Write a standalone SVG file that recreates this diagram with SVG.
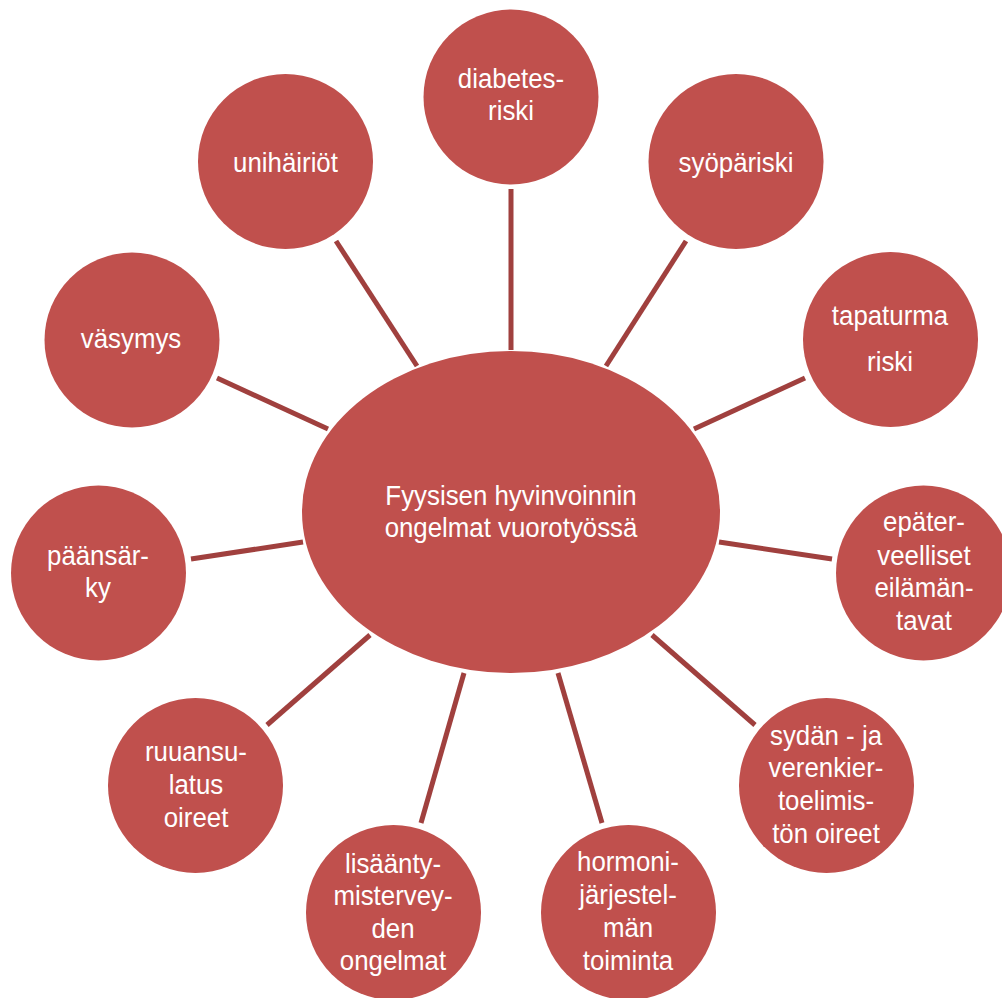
<svg xmlns="http://www.w3.org/2000/svg" width="1002" height="998" viewBox="0 0 1002 998">
<style>
.n{fill:#C0504D}
.t{fill:#FFFFFF;font-family:"Liberation Sans",Arial,sans-serif;font-size:27.5px;text-anchor:middle}
.c line{stroke:#A0403E;stroke-width:5}
</style>
<rect width="1002" height="998" fill="#FFFFFF"/>
<g class="c" id="connectors">
<line x1="511" y1="189" x2="511" y2="350"/>
<line x1="686" y1="241" x2="606" y2="366"/>
<line x1="805" y1="378" x2="694" y2="429"/>
<line x1="832" y1="559" x2="719" y2="542"/>
<line x1="755" y1="725" x2="652" y2="635"/>
<line x1="602" y1="823" x2="558" y2="673"/>
<line x1="421" y1="823" x2="464" y2="673"/>
<line x1="267" y1="725" x2="370" y2="635"/>
<line x1="191" y1="559" x2="303" y2="542"/>
<line x1="217" y1="378" x2="328" y2="429"/>
<line x1="336" y1="241" x2="417" y2="366"/>
</g>
<g id="center">
<ellipse class="n" cx="511" cy="512" rx="209" ry="161"/>
<text class="t" transform="translate(511,505) scale(0.94,1)">Fyysisen hyvinvoinnin</text>
<text class="t" transform="translate(511,537) scale(0.94,1)">ongelmat vuorotyössä</text>
</g>
<g id="diabetes">
<circle class="n" cx="511" cy="97" r="87.5"/>
<text class="t" transform="translate(511,88) scale(0.94,1)">diabetes-</text>
<text class="t" transform="translate(511,120) scale(0.94,1)">riski</text>
</g>
<g id="syopa">
<circle class="n" cx="736" cy="161.5" r="87.5"/>
<text class="t" transform="translate(736,172) scale(0.94,1)">syöpäriski</text>
</g>
<g id="tapaturma">
<circle class="n" cx="890.5" cy="339.5" r="87.5"/>
<text class="t" transform="translate(890,325) scale(0.94,1)">tapaturma</text>
<text class="t" transform="translate(890,371) scale(0.94,1)">riski</text>
</g>
<g id="epaterveelliset">
<circle class="n" cx="923.5" cy="573" r="87.5"/>
<text class="t" transform="translate(924,531) scale(0.94,1)">epäter-</text>
<text class="t" transform="translate(924,565) scale(0.94,1)">veelliset</text>
<text class="t" transform="translate(924,597) scale(0.94,1)">eilämän-</text>
<text class="t" transform="translate(924,630) scale(0.94,1)">tavat</text>
</g>
<g id="sydan">
<circle class="n" cx="826.5" cy="785.5" r="87.5"/>
<text class="t" transform="translate(826,745) scale(0.94,1)">sydän - ja</text>
<text class="t" transform="translate(826,777) scale(0.94,1)">verenkier-</text>
<text class="t" transform="translate(826,810) scale(0.94,1)">toelimis-</text>
<text class="t" transform="translate(826,843) scale(0.94,1)">tön oireet</text>
</g>
<g id="hormoni">
<circle class="n" cx="628.5" cy="912.5" r="87.5"/>
<text class="t" transform="translate(628,871) scale(0.94,1)">hormoni-</text>
<text class="t" transform="translate(628,904) scale(0.94,1)">järjestel-</text>
<text class="t" transform="translate(628,937) scale(0.94,1)">män</text>
<text class="t" transform="translate(628,970) scale(0.94,1)">toiminta</text>
</g>
<g id="lisaantymis">
<circle class="n" cx="393.5" cy="912.5" r="87.5"/>
<text class="t" transform="translate(393,873) scale(0.94,1)">lisäänty-</text>
<text class="t" transform="translate(393,905) scale(0.94,1)">mistervey-</text>
<text class="t" transform="translate(393,938) scale(0.94,1)">den</text>
<text class="t" transform="translate(393,970) scale(0.94,1)">ongelmat</text>
</g>
<g id="ruuansulatus">
<circle class="n" cx="195.5" cy="785.5" r="87.5"/>
<text class="t" transform="translate(196,761) scale(0.94,1)">ruuansu-</text>
<text class="t" transform="translate(196,794) scale(0.94,1)">latus</text>
<text class="t" transform="translate(196,827) scale(0.94,1)">oireet</text>
</g>
<g id="paansarky">
<circle class="n" cx="98.5" cy="573" r="87.5"/>
<text class="t" transform="translate(98,565) scale(0.94,1)">päänsär-</text>
<text class="t" transform="translate(98,597) scale(0.94,1)">ky</text>
</g>
<g id="vasymys">
<circle class="n" cx="132" cy="340" r="87.5"/>
<text class="t" transform="translate(131,348) scale(0.94,1)">väsymys</text>
</g>
<g id="unihairiot">
<circle class="n" cx="285.5" cy="161.5" r="87.5"/>
<text class="t" transform="translate(285.5,172) scale(0.94,1)">unihäiriöt</text>
</g>
</svg>
